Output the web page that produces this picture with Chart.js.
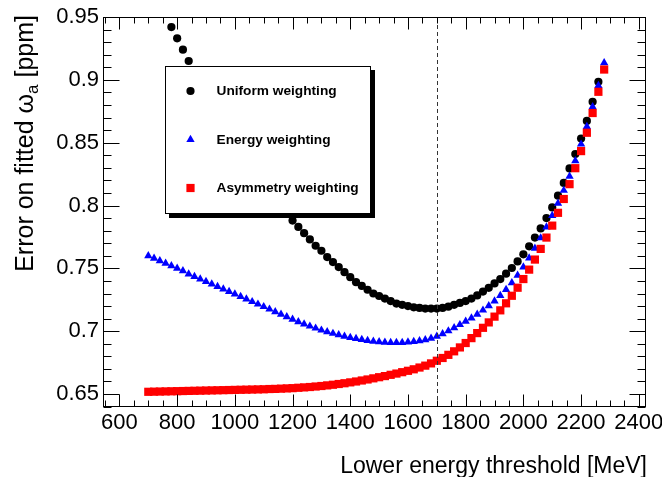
<!DOCTYPE html>
<html>
<head>
<meta charset="utf-8">
<script src="https://cdn.jsdelivr.net/npm/chart.js@4.4.1/dist/chart.umd.min.js"></script>
<style>
  html, body { margin: 0; padding: 0; background: #fff; }
  canvas { display: block; }
</style>
</head>
<body>
<canvas id="c" width="662" height="477"></canvas>
<script>
// Lower energy threshold of the fit [MeV]
const thresholds = [
  700, 720, 740, 760, 780, 800, 820, 840, 860, 880,
  900, 920, 940, 960, 980, 1000, 1020, 1040, 1060, 1080,
  1100, 1120, 1140, 1160, 1180, 1200, 1220, 1240, 1260, 1280,
  1300, 1320, 1340, 1360, 1380, 1400, 1420, 1440, 1460, 1480,
  1500, 1520, 1540, 1560, 1580, 1600, 1620, 1640, 1660, 1680,
  1700, 1720, 1740, 1760, 1780, 1800, 1820, 1840, 1860, 1880,
  1900, 1920, 1940, 1960, 1980, 2000, 2020, 2040, 2060, 2080,
  2100, 2120, 2140, 2160, 2180, 2200, 2220, 2240, 2260, 2280
];

// Statistical error on omega_a [ppm] for each weighting scheme
// (null: outside the frame or behind the legend box)
const uniformErr = [
  null, null, null, null, 0.942, 0.933, 0.924, 0.915, null, null,
  null, null, null, null, null, null, null, null, null, null,
  null, null, null, null, null, 0.788, 0.783, 0.778, 0.773, 0.768,
  0.764, 0.759, 0.755, 0.751, 0.747, 0.743, 0.739, 0.736, 0.733, 0.730,
  0.728, 0.726, 0.724, 0.722, 0.721, 0.720, 0.719, 0.7185, 0.718, 0.718,
  0.718, 0.7185, 0.7195, 0.721, 0.7225, 0.724, 0.726, 0.7285, 0.7315, 0.7345,
  0.738, 0.7415, 0.7458, 0.7503, 0.7555, 0.7612, 0.7675, 0.7745, 0.7818, 0.7900,
  0.7985, 0.8078, 0.8180, 0.8295, 0.8410, 0.8533, 0.8673, 0.8825, 0.8985, null
];
const energyErr = [
  0.760, 0.758, 0.756, 0.754, 0.752, 0.750, 0.748, 0.7455, 0.7435, 0.7415,
  0.7395, 0.7375, 0.7355, 0.7335, 0.7315, 0.7295, 0.7275, 0.7255, 0.7235, 0.7215,
  0.7195, 0.7175, 0.7155, 0.7135, 0.7115, 0.7094, 0.7075, 0.7056, 0.7040, 0.7024,
  0.7008, 0.6995, 0.6982, 0.6971, 0.6960, 0.6950, 0.6942, 0.6934, 0.6926, 0.6920,
  0.6915, 0.6912, 0.6910, 0.6910, 0.6910, 0.6913, 0.6918, 0.6924, 0.6932, 0.6944,
  0.6960, 0.6979, 0.7002, 0.7027, 0.7052, 0.7078, 0.7105, 0.7135, 0.7167, 0.7202,
  0.7240, 0.7283, 0.7332, 0.7385, 0.7445, 0.7510, 0.7582, 0.7660, 0.7742, 0.7828,
  0.7920, 0.8017, 0.8120, 0.8232, 0.8355, 0.8488, 0.8628, 0.8785, 0.8955, 0.9135
];
const asymmetryErr = [
  0.6518, 0.6519, 0.6520, 0.6521, 0.6522, 0.6523, 0.6524, 0.6525, 0.6526, 0.6527,
  0.6528, 0.6529, 0.6530, 0.6531, 0.6532, 0.6533, 0.6534, 0.6535, 0.6536, 0.6537,
  0.6538, 0.6540, 0.6541, 0.6543, 0.6545, 0.6547, 0.6550, 0.6553, 0.6556, 0.6560,
  0.6564, 0.6569, 0.6574, 0.6580, 0.6586, 0.6593, 0.6600, 0.6608, 0.6616, 0.6625,
  0.6634, 0.6643, 0.6653, 0.6663, 0.6674, 0.6685, 0.6697, 0.6711, 0.6726, 0.6744,
  0.6765, 0.6787, 0.6812, 0.6840, 0.6871, 0.6906, 0.6945, 0.6985, 0.7027, 0.7070,
  0.7116, 0.7166, 0.7222, 0.7282, 0.7346, 0.7415, 0.7490, 0.7570, 0.7655, 0.7745,
  0.7840, 0.7942, 0.8052, 0.8170, 0.8297, 0.8433, 0.8579, 0.8736, 0.8905, 0.9082
];

const seriesNames = ['Uniform weighting', 'Energy weighting', 'Asymmetry weighting'];

// Axes
const xMin = 543, xMax = 2425;
const yMin = 0.6397, yMax = 0.95;
const xTickValues = [600, 800, 1000, 1200, 1400, 1600, 1800, 2000, 2200, 2400];
const xTickLabels = ['600', '800', '1000', '1200', '1400', '1600', '1800', '2000', '2200', '2400'];
const yTickValues = [0.65, 0.70, 0.75, 0.80, 0.85, 0.90, 0.95];
const yTickLabels = ['0.65', '0.7', '0.75', '0.8', '0.85', '0.9', '0.95'];
const chosenThreshold = 1700;

const FONT = "'Liberation Sans', Arial, Helvetica, sans-serif";

function points(values) {
  const out = [];
  values.forEach((v, i) => { if (v !== null) out.push({ x: thresholds[i], y: v }); });
  return out;
}

const styles = [
  { pointStyle: 'circle',   radius: 4.1, color: '#000000' },
  { pointStyle: 'triangle', radius: 4.8, color: '#0000ff' },
  { pointStyle: 'rect',     radius: 5.8, color: '#ff0000' }
];

// ROOT-style frame: inward ticks on all four sides, dashed cut line, boxed legend
const framePlugin = {
  id: 'rootFrame',
  afterDatasetsDraw(chart) {
    const { ctx, chartArea: a, scales: { x, y } } = chart;
    ctx.save();
    ctx.lineWidth = 1;

    // chosen threshold
    const cx = Math.round(x.getPixelForValue(chosenThreshold)) + 0.5;
    ctx.setLineDash([4, 3]);
    ctx.strokeStyle = '#333';
    ctx.beginPath();
    ctx.moveTo(cx, a.bottom);
    ctx.lineTo(cx, a.top);
    ctx.stroke();
    ctx.setLineDash([]);
    ctx.strokeStyle = '#000';

    // frame
    const L = Math.round(a.left) + 0.5, R = Math.round(a.right) - 0.5;
    const T = Math.round(a.top) + 0.5, B = Math.round(a.bottom) - 0.5;
    ctx.strokeRect(L, T, R - L, B - T);

    ctx.beginPath();
    // x ticks: major every 200, minor every 50
    for (let v = 550; v <= xMax; v += 50) {
      const px = Math.round(x.getPixelForValue(v)) + 0.5;
      const len = (v % 200 === 0) ? 12 : 6;
      ctx.moveTo(px, B); ctx.lineTo(px, B - len);
      ctx.moveTo(px, T); ctx.lineTo(px, T + len);
    }
    // y ticks: major every 0.05, minor every 0.01
    for (let k = 64; k <= 95; k++) {
      const py = Math.round(y.getPixelForValue(k / 100)) + 0.5;
      const len = (k % 5 === 0) ? 16 : 8;
      ctx.moveTo(L, py); ctx.lineTo(L + len, py);
      ctx.moveTo(R, py); ctx.lineTo(R - len, py);
    }
    ctx.stroke();
    ctx.restore();
  },
  afterDraw(chart) {
    const { ctx, chartArea: a } = chart;
    ctx.save();

    // legend box with drop shadow
    const bx = 165, by = 66, bw = 206, bh = 148;
    ctx.fillStyle = '#000';
    ctx.fillRect(bx + 4, by + 4, bw, bh);
    ctx.fillStyle = '#fff';
    ctx.fillRect(bx, by, bw, bh);
    ctx.strokeStyle = '#000';
    ctx.lineWidth = 1;
    ctx.strokeRect(bx + 0.5, by + 0.5, bw - 1, bh - 1);

    const rows = [91, 139.5, 188];
    ctx.font = 'bold 13.7px ' + FONT;
    ctx.textBaseline = 'middle';
    ctx.textAlign = 'left';
    seriesNames.forEach((name, i) => {
      const s = styles[i];
      ctx.fillStyle = s.color;
      Chart.helpers.drawPoint(ctx, { pointStyle: s.pointStyle, radius: s.radius, rotation: 0, borderWidth: 0 }, 190.5, rows[i]);
      ctx.fillStyle = '#000';
      ctx.fillText(name, 216.5, rows[i] + 0.5);
    });

    // axis titles
    ctx.fillStyle = '#000';
    ctx.textBaseline = 'alphabetic';
    ctx.font = '23px ' + FONT;
    ctx.textAlign = 'right';
    ctx.fillText('Lower energy threshold [MeV]', a.right + 1, 473);

    // rotated y title with subscript
    const main = 'Error on fitted \u03c9', sub = 'a', tail = ' [ppm]';
    const fMain = '25px ' + FONT, fSub = '17px ' + FONT;
    ctx.font = fMain;
    const w1 = ctx.measureText(main).width, w3 = ctx.measureText(tail).width;
    ctx.font = fSub;
    const w2 = ctx.measureText(sub).width;
    const total = w1 + w2 + w3;
    ctx.translate(33, a.top - 2);
    ctx.rotate(-Math.PI / 2);
    ctx.textAlign = 'left';
    let xs = -total;
    ctx.font = fMain; ctx.fillText(main, xs, 0); xs += w1;
    ctx.font = fSub;  ctx.fillText(sub, xs, 5); xs += w2;
    ctx.font = fMain; ctx.fillText(tail, xs, 0);
    ctx.restore();
  }
};

const tickFont = { family: FONT, size: 22 };

new Chart(document.getElementById('c'), {
  type: 'scatter',
  data: {
    datasets: [uniformErr, energyErr, asymmetryErr].map((vals, i) => ({
      label: seriesNames[i],
      data: points(vals),
      pointStyle: styles[i].pointStyle,
      pointRadius: styles[i].radius,
      pointBackgroundColor: styles[i].color,
      pointBorderWidth: 0,
      pointBorderColor: styles[i].color,
      showLine: false,
      order: 3 - i
    }))
  },
  options: {
    responsive: false,
    animation: false,
    devicePixelRatio: 1,
    events: [],
    layout: { padding: { left: 0, right: 16, top: 17, bottom: 0 } },
    plugins: { legend: { display: false }, tooltip: { enabled: false } },
    scales: {
      x: {
        type: 'linear', min: xMin, max: xMax,
        afterBuildTicks(s) { s.ticks = xTickValues.map(v => ({ value: v })); },
        afterFit(s) { s.height = 70; s.paddingLeft = 0; s.paddingRight = 0; },
        ticks: {
          callback(v) { const i = xTickValues.indexOf(v); return i >= 0 ? xTickLabels[i] : ''; },
          font: tickFont, color: '#000', padding: 3, maxRotation: 0, autoSkip: false
        },
        grid: { display: false, drawTicks: false },
        border: { display: false }
      },
      y: {
        type: 'linear', min: yMin, max: yMax,
        afterBuildTicks(s) { s.ticks = yTickValues.map(v => ({ value: v })); },
        afterFit(s) { s.width = 103; s.paddingTop = 0; s.paddingBottom = 0; },
        ticks: {
          callback(v) {
            const i = yTickValues.findIndex(t => Math.abs(t - v) < 1e-9);
            return i >= 0 ? yTickLabels[i] : '';
          },
          font: tickFont, color: '#000', padding: 4, autoSkip: false
        },
        grid: { display: false, drawTicks: false },
        border: { display: false }
      }
    }
  },
  plugins: [framePlugin]
});
</script>
</body>
</html>
